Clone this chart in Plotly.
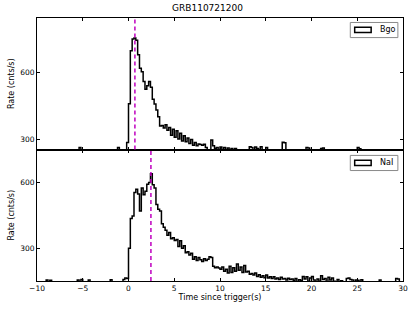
import numpy as np
import plotly.graph_objects as go
from plotly.subplots import make_subplots

# ---- data ----
title = "GRB110721200"
bin_width = 0.2
t_start = -10.0
n_bins = 200
bgo_peak_time = 0.7
nai_peak_time = 2.45

bgo_rate = [
    # -10.0 .. -6.2
    238, 242, 236, 245, 240, 233, 247, 239, 241, 236, 244, 238, 235, 243, 240, 237, 246, 239, 234, 241,
    # -6.0 .. -2.2
    238, 244, 240, 262, 239, 236, 243, 241, 238, 245, 237, 240, 242, 236, 244, 239, 241, 238, 246, 240,
    # -2.0 .. 1.8
    237, 243, 239, 245, 262, 240, 238, 244, 241, 285, 460, 700, 753, 757, 747, 682, 621, 605, 561, 526,
    # 2.0 .. 5.8
    541, 561, 535, 480, 459, 432, 401, 359, 362, 350, 365, 340, 352, 318, 345, 308, 338, 300, 326, 292,
    # 6.0 .. 9.8
    315, 288, 305, 280, 298, 272, 285, 270, 278, 276, 272, 277, 262, 250, 248, 296, 270, 258, 262, 250,
    # 10.0 .. 13.8
    264, 252, 262, 248, 260, 250, 258, 245, 258, 245, 250, 240, 248, 242, 250, 240, 266, 262, 250, 264,
    # 14.0 .. 17.8
    258, 248, 265, 250, 240, 262, 245, 250, 242, 248, 240, 246, 238, 244, 286, 284, 240, 246, 238, 244,
    # 18.0 .. 21.8
    240, 236, 245, 238, 243, 240, 236, 262, 260, 240, 244, 238, 246, 240, 236, 258, 260, 240, 245, 238,
    # 22.0 .. 25.8
    242, 236, 244, 240, 238, 246, 240, 237, 243, 239, 245, 240, 236, 244, 241, 262, 256, 240, 238, 245,
    # 26.0 .. 29.8
    239, 243, 240, 236, 244, 240, 238, 245, 241, 237, 243, 240, 236, 244, 239, 241, 238, 246, 240, 237,
]

nai_rate = [
    # -10.0 .. -6.2
    140, 138, 142, 136, 144, 155, 139, 154, 137, 141, 143, 138, 136, 142, 140, 139, 144, 137, 141, 138,
    # -6.0 .. -2.2
    143, 139, 156, 140, 158, 138, 142, 141, 156, 139, 137, 143, 140, 138, 141, 144, 139, 142, 137, 140,
    # -2.0 .. 1.8
    157, 140, 138, 143, 139, 141, 137, 158, 165, 162, 300, 436, 448, 555, 570, 548, 470, 575, 545, 560,
    # 2.0 .. 5.8
    592, 600, 640, 590, 575, 500, 478, 470, 412, 396, 382, 360, 372, 344, 348, 336, 340, 308, 335, 300,
    # 6.0 .. 9.8
    312, 280, 285, 270, 278, 250, 262, 245, 258, 248, 240, 252, 245, 250, 262, 258, 218, 212, 215, 210,
    # 10.0 .. 13.8
    205, 215, 195, 205, 188, 218, 190, 212, 195, 228, 200, 215, 190, 222, 192, 195, 182, 185, 178, 188,
    # 14.0 .. 17.8
    172, 180, 168, 175, 166, 178, 165, 170, 162, 170, 160, 165, 158, 168, 160, 162, 155, 164, 158, 160,
    # 18.0 .. 21.8
    153, 162, 148, 157, 152, 172, 160, 170, 150, 165, 172, 155, 148, 160, 150, 175, 158, 162, 148, 168,
    # 22.0 .. 25.8
    155, 165, 150, 145, 158, 148, 152, 145, 140, 162, 165, 158, 155, 148, 156, 154, 145, 157, 140, 146,
    # 26.0 .. 29.8
    142, 148, 140, 146, 138, 144, 147, 155, 141, 145, 139, 143, 146, 140, 144, 141, 162, 160, 143, 140,
]

x_range = [-10, 30]
bgo_yrange = [253, 848]
nai_yrange = [151, 751]
y_ticks = [300, 600]
x_ticks = [-10, -5, 0, 5, 10, 15, 20, 25, 30]
x_tick_labels = ["\u221210", "\u22125", "0", "5", "10", "15", "20", "25", "30"]

# ---- figure ----
edges = t_start + bin_width * np.arange(n_bins + 1)

def step(vals):
    return list(edges), list(vals) + [vals[-1]]

fig = make_subplots(rows=2, cols=1, shared_xaxes=True, vertical_spacing=0)

bx, by = step(bgo_rate)
nx, ny = step(nai_rate)
line = dict(color="black", width=1.5, shape="hv")
fig.add_trace(go.Scatter(x=bx, y=by, mode="lines", line=line, showlegend=False), row=1, col=1)
fig.add_trace(go.Scatter(x=nx, y=ny, mode="lines", line=line, showlegend=False), row=2, col=1)

magenta = "#bf00bf"
fig.add_shape(type="line", xref="x", yref="y domain", x0=bgo_peak_time, x1=bgo_peak_time,
              y0=0, y1=1, line=dict(color=magenta, width=1.5, dash="4px,3px"))
fig.add_shape(type="line", xref="x2", yref="y2 domain", x0=nai_peak_time, x1=nai_peak_time,
              y0=0, y1=1, line=dict(color=magenta, width=1.5, dash="4px,3px"))

font = dict(family="DejaVu Sans", size=8, color="black")
axis_common = dict(showgrid=False, zeroline=False, showline=True, linecolor="black",
                   linewidth=1, mirror="ticks", ticks="inside", ticklen=3, automargin=False,
                   tickcolor="black", tickfont=dict(family="DejaVu Sans", size=7.5, color="black"))

fig.update_xaxes(range=x_range, tickmode="array", tickvals=x_ticks, ticktext=x_tick_labels,
                 **axis_common)
fig.update_xaxes(showticklabels=False, row=1, col=1)
fig.update_xaxes(title=dict(text="Time since trigger(s)", font=font, standoff=2), row=2, col=1)
fig.update_yaxes(tickmode="array", tickvals=y_ticks, **axis_common)
fig.update_yaxes(range=bgo_yrange, title=dict(text="Rate (cnts/s)", font=font, standoff=4), row=1, col=1)
fig.update_yaxes(range=nai_yrange, title=dict(text="Rate (cnts/s)", font=font, standoff=4), row=2, col=1)

# legends (drawn manually as in the reference)
def legend_box(label, yd, yref):
    fig.add_shape(type="rect", xref="x domain", yref=yref, x0=0.856, x1=0.986,
                  y0=yd - 0.115, y1=yd, line=dict(color="#8a8a8a", width=1), fillcolor="white")
    fig.add_shape(type="rect", xref="x domain", yref=yref, x0=0.868, x1=0.913,
                  y0=yd - 0.077, y1=yd - 0.037, line=dict(color="black", width=1.5),
                  fillcolor="white")
    fig.add_annotation(text=label, xref="x domain", yref=yref, x=0.931, y=yd - 0.057,
                       xanchor="left", yanchor="middle", showarrow=False,
                       font=dict(family="DejaVu Sans", size=8, color="black"))

legend_box("Bgo", 0.966, "y domain")
legend_box("NaI", 0.955, "y2 domain")

fig.update_layout(
    width=415, height=312,
    margin=dict(l=37, r=12, t=18, b=31, autoexpand=False),
    plot_bgcolor="white", paper_bgcolor="white",
    title=dict(text=title, x=0.5, xanchor="center", y=0.985, yanchor="top",
               font=dict(family="DejaVu Sans", size=9, color="black")),
    showlegend=False,
)

fig.write_html("out.html", config={"displayModeBar": False},
               post_script="document.body.style.margin='0';")
